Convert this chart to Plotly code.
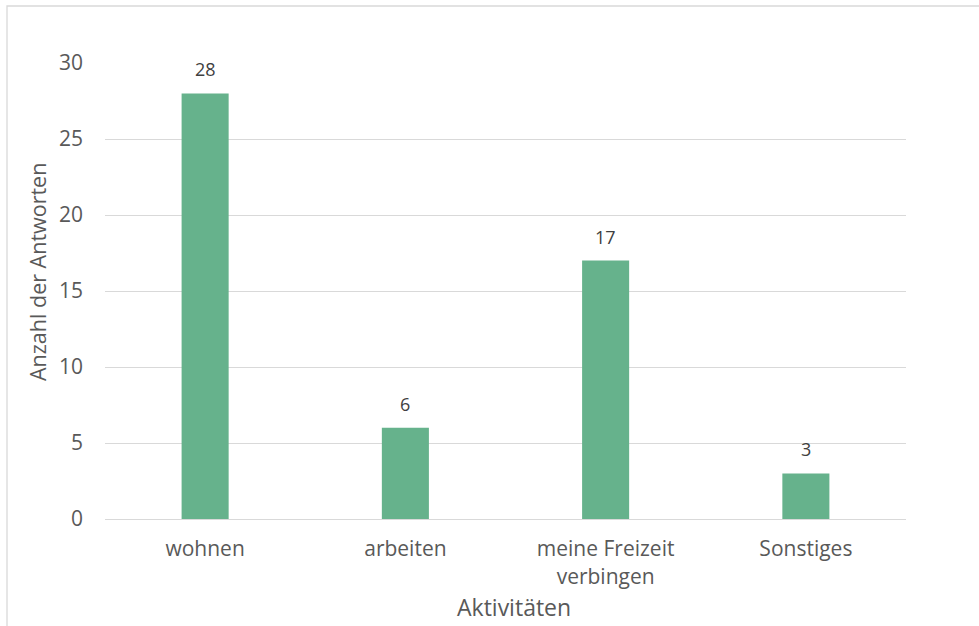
import plotly.graph_objects as go

# Kategorien und Anzahl der Antworten
kategorien = ["wohnen", "arbeiten", "meine Freizeit<br>verbingen", "Sonstiges"]
antworten = [28, 6, 17, 3]
y_ticks = [0, 5, 10, 15, 20, 25, 30]

FONT = "Open Sans"
BAR_COLOR = "#66B28C"
GRID = "#D9D9D9"
TEXT = "#595959"

W, H = 979, 626
L, R, T, B = 105, 73, 63, 107

fig = go.Figure()
fig.add_trace(go.Bar(
    x=kategorien,
    y=antworten,
    marker=dict(color=BAR_COLOR, line=dict(width=0)),
    width=0.235,
    hoverinfo="x+y",
))

# Datenbeschriftungen über den Säulen
for k, v in zip(kategorien, antworten):
    fig.add_annotation(
        x=k, y=v, xref="x", yref="y",
        text=str(v), showarrow=False,
        yanchor="bottom", yshift=10,
        font=dict(family=FONT, size=18, color="#404040"),
    )

pw = W - L - R
ph = H - T - B

# Achsentitel
fig.add_annotation(
    xref="paper", yref="paper",
    x=(514 - L) / pw, y=(H - B - 607) / ph,
    text="Aktivitäten", showarrow=False,
    font=dict(family=FONT, size=23, color=TEXT),
    xanchor="center", yanchor="middle",
)
fig.add_annotation(
    xref="paper", yref="paper",
    x=(37 - L) / pw, y=(H - B - 272) / ph,
    text="Anzahl der Antworten", showarrow=False, textangle=-90,
    font=dict(family=FONT, size=21.5, color=TEXT),
    xanchor="center", yanchor="middle",
)

# Rahmen des Diagrammbereichs
fig.add_shape(
    type="rect", xref="paper", yref="paper",
    x0=(7 - L) / pw, x1=1.3, y0=-0.5, y1=(H - B - 6) / ph,
    line=dict(color=GRID, width=1.3), fillcolor="rgba(0,0,0,0)",
    layer="below",
)

fig.update_layout(
    width=W, height=H,
    margin=dict(l=L, r=R, t=T, b=B),
    paper_bgcolor="white",
    plot_bgcolor="white",
    showlegend=False,
    bargap=0.765,
    font=dict(family=FONT, color=TEXT),
)
fig.update_xaxes(
    showgrid=False,
    showline=True, linecolor=GRID, linewidth=1.3,
    ticks="", tickfont=dict(family=FONT, size=21, color=TEXT),
    ticklabelstandoff=11,
)
fig.update_yaxes(
    range=[0, 30],
    tickvals=y_ticks,
    showgrid=True, gridcolor=GRID, gridwidth=1.3,
    zeroline=False, showline=False,
    ticks="", tickfont=dict(family=FONT, size=21, color=TEXT),
    ticklabelstandoff=21,
)

fig.write_html("out.html")
